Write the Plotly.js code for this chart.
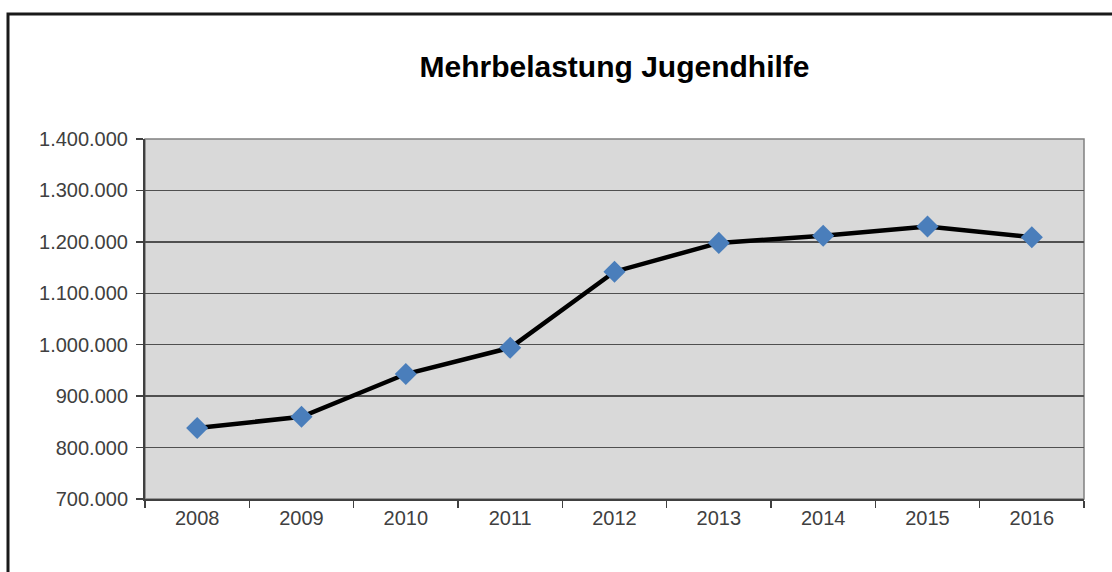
<!DOCTYPE html>
<html>
<head>
<meta charset="utf-8">
<script src="https://cdn.plot.ly/plotly-3.0.1.min.js"></script>
<style>
  html, body { margin: 0; padding: 0; background: #ffffff; }
  #chart { width: 1112px; height: 572px; }
</style>
</head>
<body>
<div id="chart"></div>
<script>
const chartTitle = "Mehrbelastung Jugendhilfe";
const years = ["2008", "2009", "2010", "2011", "2012", "2013", "2014", "2015", "2016"];
const values = [838000, 860000, 943000, 994000, 1142000, 1198000, 1212000, 1230000, 1209000];
const yTicks = [700000, 800000, 900000, 1000000, 1100000, 1200000, 1300000, 1400000];

const trace = {
  x: years,
  y: values,
  type: "scatter",
  mode: "lines+markers",
  line: { color: "#000000", width: 4.5 },
  marker: { symbol: "diamond", size: 17, color: "#4a7ebb", line: { width: 0 } },
  hoverinfo: "skip"
};

const layout = {
  width: 1112,
  height: 572,
  separators: ",.",
  paper_bgcolor: "#ffffff",
  plot_bgcolor: "#d9d9d9",
  margin: { l: 145, r: 28, t: 139, b: 73 },
  showlegend: false,
  font: { family: "Liberation Sans, Arial, sans-serif", color: "#404040", size: 20 },
  title: {
    text: "<b>" + chartTitle + "</b>",
    font: { family: "Liberation Sans, Arial, sans-serif", size: 30, color: "#000000" },
    x: 0.5, xref: "paper", xanchor: "center",
    y: 0.883, yref: "container", yanchor: "middle"
  },
  xaxis: {
    type: "category",
    range: [-0.5, years.length - 0.5],
    showgrid: false,
    zeroline: false,
    showline: true,
    linecolor: "#404040",
    linewidth: 2,
    ticks: "outside",
    tickson: "boundaries",
    ticklen: 7,
    tickcolor: "#404040",
    tickwidth: 1.5,
    tickfont: { size: 20, color: "#404040" },
    fixedrange: true
  },
  yaxis: {
    range: [700000, 1400000],
    tickvals: yTicks,
    tickformat: ",d",
    showgrid: true,
    gridcolor: "#505050",
    gridwidth: 1.5,
    zeroline: false,
    showline: true,
    linecolor: "#404040",
    linewidth: 2,
    ticks: "outside",
    ticklen: 7,
    tickcolor: "#404040",
    tickwidth: 1.5,
    ticklabelstandoff: 4,
    tickfont: { size: 20, color: "#404040" },
    fixedrange: true
  },
  shapes: [
    {
      type: "rect", xref: "paper", yref: "paper",
      x0: 0, x1: 1, y0: 0, y1: 1,
      line: { color: "#808080", width: 1.5 },
      fillcolor: "rgba(0,0,0,0)",
      layer: "below"
    },
    {
      type: "rect", xref: "paper", yref: "paper",
      x0: (8 - 145) / 939, x1: (1125 - 145) / 939,
      y0: -(585 - 499) / 360, y1: 1 + (139 - 14) / 360,
      line: { color: "#1a1a1a", width: 3 },
      fillcolor: "rgba(0,0,0,0)",
      layer: "above"
    }
  ]
};

Plotly.newPlot("chart", [trace], layout, { displayModeBar: false, staticPlot: true });
</script>
</body>
</html>
